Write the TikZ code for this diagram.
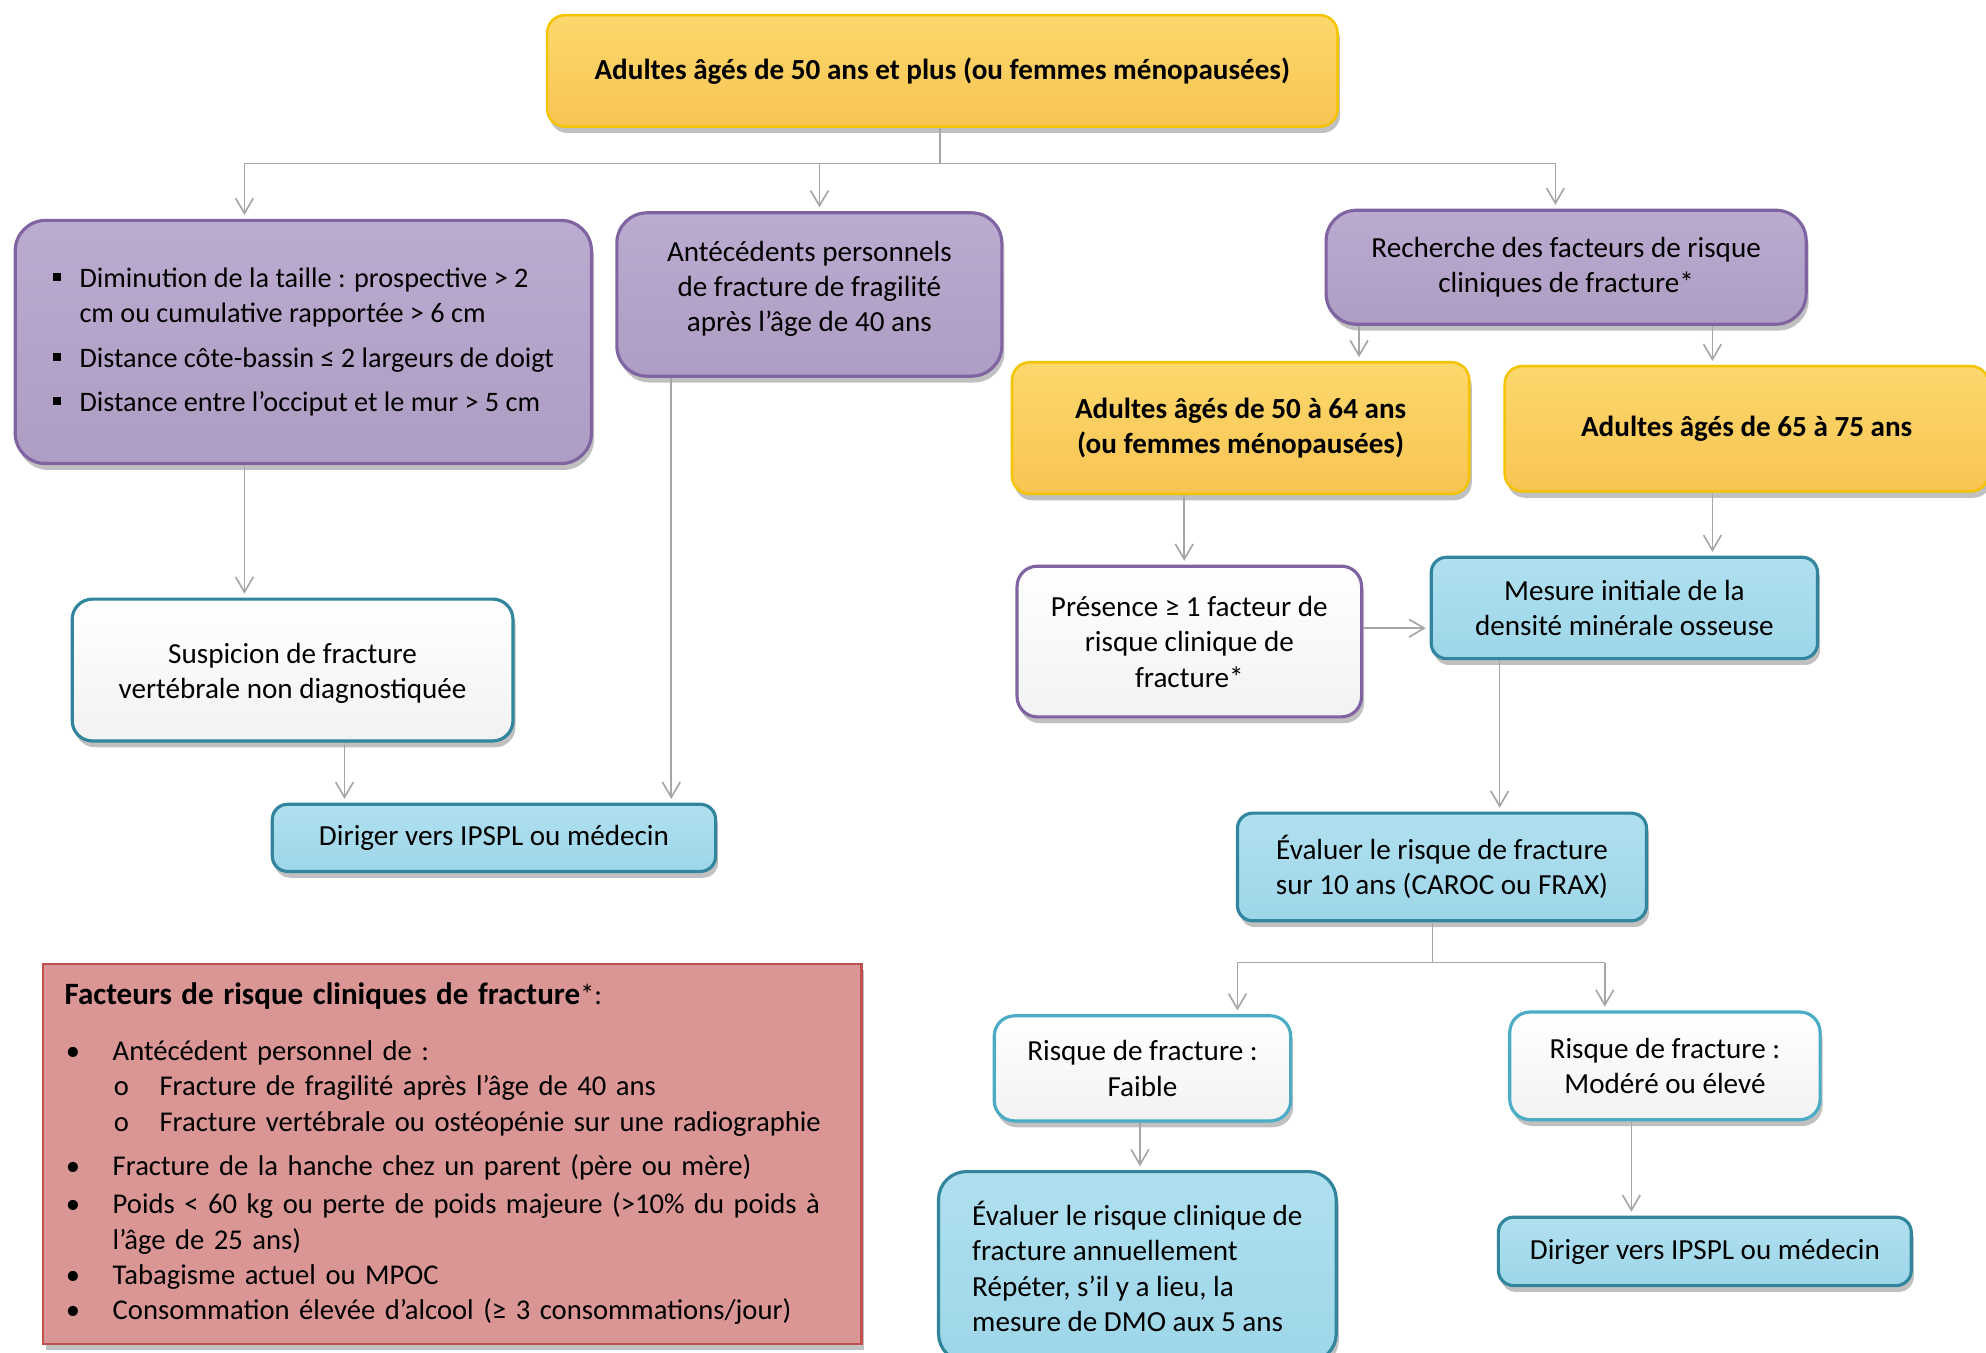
\documentclass[tikz,border=0pt]{standalone}
\usepackage{fontspec}
\setmainfont{Carlito}
\usetikzlibrary{arrows.meta,shadows}
\definecolor{conncol}{RGB}{166,166,166}
\definecolor{yelfill}{HTML}{F8C453}
\definecolor{yeltop}{HTML}{FCD86C}
\definecolor{yelline}{HTML}{F5C400}
\definecolor{purfill}{HTML}{AE9DC4}
\definecolor{purtop}{HTML}{BBABCF}
\definecolor{purline}{HTML}{8064A2}
\definecolor{blufill}{HTML}{9DD6E9}
\definecolor{blutop}{HTML}{B0E0EF}
\definecolor{bluline}{HTML}{31859C}
\definecolor{whtline}{HTML}{4BACC6}
\definecolor{whtbot}{HTML}{F2F2F2}
\definecolor{redfill}{HTML}{D99694}
\definecolor{redline}{HTML}{C0504D}
\newcommand\fs{\fontsize{23}{28}\selectfont}
\newcommand\fsb{\fontsize{22.3}{28}\selectfont}
\newcommand\fsr{\fontsize{22.6}{28}\selectfont}
\newcommand\sqbul{\makebox[21pt][l]{\raisebox{5pt}{\rule{6.5pt}{6.5pt}}}}
\newcommand\rbul{\makebox[38pt][l]{\hspace{1pt}•}}
\newcommand\rsub{\makebox[75pt][l]{\hspace{39pt}o}}
\newcommand\shiftup[2]{\raisebox{#1}[\height][\depth]{\begin{tabular}{@{}c@{}}#2\end{tabular}}}
\begin{document}
\begin{tikzpicture}[x=1pt,y=-1pt,
  conn/.style={draw=conncol, line width=1.3pt},
  arr/.style={conn, -{Straight Barb[length=12pt,width=14pt,line width=1.3pt]}, shorten >=3pt},
  box/.style={align=center, inner sep=0pt, font=\fs, text=black,
    drop shadow={shadow xshift=2pt, shadow yshift=-5pt, opacity=0.35, fill=black!70}},
  yel/.style={box, top color=yeltop, bottom color=yelfill, draw=yelline, line width=2pt, rounded corners=14pt},
  pur/.style={box, top color=purtop, bottom color=purfill, draw=purline, line width=2.5pt, rounded corners=24pt},
  blu/.style={box, top color=blutop, bottom color=blufill, draw=bluline, line width=2.5pt, rounded corners=12pt},
  wht/.style={box, top color=white, bottom color=whtbot, line width=2.5pt, rounded corners=16pt},
  redbox/.style={box, fill=redfill, draw=redline, line width=2pt}]
\clip (0,0) rectangle (1568,1068);
\fill[white] (0,0) rectangle (1568,1068);

% nodes
\node[yel, minimum width=624pt, minimum height=88pt, font=\fs\bfseries] (top) at (744,56)
  {Adultes âgés de 50 ans et plus (ou femmes ménopausées)};
\node[pur, align=left, font=\fsb, minimum width=455pt, minimum height=192pt] (crit) at (239.5,270)
  {\sqbul Diminution de la taille : prospective > 2\\
   \hspace*{21pt}cm ou cumulative rapportée > 6 cm\\[7pt]
   \sqbul Distance côte-bassin ≤ 2 largeurs de doigt\\[7pt]
   \sqbul Distance entre l’occiput et le mur > 5 cm};
\node[pur, minimum width=304pt, minimum height=129pt] (ante) at (639,232.5)
  {\shiftup{4pt}{Antécédents personnels\\de fracture de fragilité\\après l’âge de 40 ans}};
\node[pur, minimum width=379pt, minimum height=90pt] (rech) at (1236.5,211)
  {Recherche des facteurs de risque\\cliniques de fracture*};
\node[yel, minimum width=361pt, minimum height=104pt, font=\fs\bfseries] (ya) at (979.5,338)
  {Adultes âgés de 50 à 64 ans\\(ou femmes ménopausées)};
\node[yel, minimum width=382pt, minimum height=99pt, font=\fs\bfseries] (yb) at (1379,338.5)
  {Adultes âgés de 65 à 75 ans};
\node[wht, draw=purline, minimum width=272pt, minimum height=119pt] (pres) at (939,506.5)
  {Présence ≥ 1 facteur de\\risque clinique de\\fracture*};
\node[blu, minimum width=305pt, minimum height=80pt] (mes) at (1282.5,480)
  {Mesure initiale de la\\densité minérale osseuse};
\node[wht, draw=bluline, minimum width=348pt, minimum height=112pt] (susp) at (231,529)
  {\shiftup{-3pt}{Suspicion de fracture\\vertébrale non diagnostiquée}};
\node[blu, minimum width=350pt, minimum height=53pt] (dirL) at (390,661.5)
  {Diriger vers IPSPL ou médecin};
\node[blu, minimum width=323pt, minimum height=85pt] (eval) at (1138.5,684.5)
  {Évaluer le risque de fracture\\sur 10 ans (CAROC ou FRAX)};
\node[wht, draw=whtline, minimum width=234pt, minimum height=83pt] (faible) at (902,843.5)
  {Risque de fracture :\\Faible};
\node[wht, draw=whtline, minimum width=245pt, minimum height=85pt] (mod) at (1314.5,841.5)
  {Risque de fracture :\\Modéré ou élevé};
\node[blu, align=left, minimum width=314pt, minimum height=150pt, rounded corners=22pt] (clin) at (898,1000)
  {Évaluer le risque clinique de\\fracture annuellement\\Répéter, s’il y a lieu, la\\mesure de DMO aux 5 ans};
\node[blu, minimum width=326pt, minimum height=54pt] (dirR) at (1346,988)
  {Diriger vers IPSPL ou médecin};
\node[redbox, anchor=north west, align=left, font=\fsr, text width=612pt, inner xsep=17pt, minimum height=300pt] (fact) at (33,760)
  {{\fontsize{24.5}{28}\selectfont\bfseries Facteurs de risque cliniques de fracture}*:\\[16pt]
   \rbul Antécédent personnel de :\\
   \rsub Fracture de fragilité après l’âge de 40 ans\\
   \rsub Fracture vertébrale ou ostéopénie sur une radiographie\\[7pt]
   \rbul Fracture de la hanche chez un parent (père ou mère)\\[2pt]
   \rbul Poids < 60 kg ou perte de poids majeure (>10\% du poids à\\
   \hspace*{38pt}l’âge de 25 ans)\\
   \rbul Tabagisme actuel ou MPOC\\
   \rbul Consommation élevée d’alcool (≥ 3 consommations/jour)};

% connector coordinates
\coordinate (bus1) at (742,129);
\coordinate (b1L) at (193,129);
\coordinate (b1M) at (647,129);
\coordinate (b1R) at (1228,129);
\coordinate (xa) at (1073,0);
\coordinate (xb) at (1352,0);
\coordinate (xd) at (530,0);
\coordinate (xe) at (272,0);
\coordinate (xf) at (935,0);
\coordinate (xg) at (1184,0);
\coordinate (ym) at (0,496);
\coordinate (bus2) at (1131,760);
\coordinate (b2L) at (977,760);
\coordinate (b2R) at (1267,760);
\coordinate (xh) at (900,0);
\coordinate (xi) at (1288,0);

% connectors
\draw[conn] (top.south -| bus1) -- (bus1);
\draw[conn] (b1L) -- (b1R);
\draw[arr] (b1L) -- (b1L |- crit.north);
\draw[arr] (b1M) -- (b1M |- ante.north);
\draw[arr] (b1R) -- (b1R |- rech.north);
\draw[arr] (rech.south -| xa) -- (ya.north -| xa);
\draw[arr] (rech.south -| xb) -- (yb.north -| xb);
\draw[arr] (crit.south -| b1L) -- (susp.north -| b1L);
\draw[arr] (ante.south -| xd) -- (dirL.north -| xd);
\draw[arr] (susp.south -| xe) -- (dirL.north -| xe);
\draw[arr] (ya.south -| xf) -- (pres.north -| xf);
\draw[arr] (yb.south -| xb) -- (mes.north -| xb);
\draw[arr] (pres.east |- ym) -- (mes.west |- ym);
\draw[arr] (mes.south -| xg) -- (eval.north -| xg);
\draw[conn] (eval.south -| bus2) -- (bus2);
\draw[conn] (b2L) -- (b2R);
\draw[arr] (b2L) -- (faible.north -| b2L);
\draw[arr] (b2R) -- (mod.north -| b2R);
\draw[arr] (faible.south -| xh) -- (clin.north -| xh);
\draw[arr] (mod.south -| xi) -- (dirR.north -| xi);
\end{tikzpicture}
\end{document}
